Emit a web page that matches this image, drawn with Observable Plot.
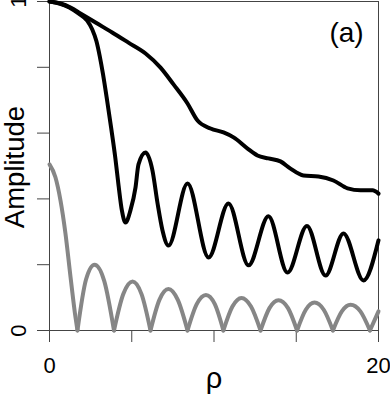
<!DOCTYPE html>
<html>
<head>
<meta charset="utf-8">
<script src="https://cdn.jsdelivr.net/npm/d3@7"></script>
<script src="https://cdn.jsdelivr.net/npm/@observablehq/plot@0.6"></script>
<style>
  html, body { margin: 0; padding: 0; background: #fff; }
  #chart svg { display: block; }
</style>
</head>
<body>
<div id="chart"></div>
<script>
// ---- data ----
const xTicks = [0, 5, 10, 15, 20];
const xTickLabels = ["0", "", "", "", "20"];
const yTicks = [0, 0.2, 0.4, 0.6, 0.8, 1];
const yTickLabels = ["0", "", "", "", "", "1"];
const xLabel = "ρ";
const yLabel = "Amplitude";
const panelLabel = "(a)";

// upper smooth black curve
const upperRho = [0, 0.67, 1.28, 1.88, 2.8, 3.81, 4.8, 5.84, 6.75, 7.54, 8.39, 9.0, 9.79, 10.58, 11.19, 12.04, 12.64, 13.31, 14.04, 14.65, 15.44, 16.35, 17.26, 18.12, 18.91, 19.64, 20];
const upperAmp = [1.0, 0.994, 0.982, 0.964, 0.936, 0.906, 0.875, 0.842, 0.799, 0.748, 0.69, 0.638, 0.614, 0.602, 0.587, 0.553, 0.532, 0.523, 0.514, 0.492, 0.471, 0.468, 0.456, 0.432, 0.426, 0.426, 0.416];

// oscillating black curve
const oscRho = [0, 0.6, 1.2, 1.78, 2.29, 2.6, 2.85, 3.05, 3.25, 3.5, 3.75, 4.0, 4.2, 4.4, 4.62, 4.92, 5.23, 5.41, 5.84, 6.26, 6.57, 6.87, 7.23, 8.39, 9.67, 10.88, 12.10, 13.31, 14.47, 15.65, 16.78, 17.87, 19.09, 20];
const oscAmp = [1.0, 0.994, 0.982, 0.963, 0.942, 0.915, 0.88, 0.835, 0.78, 0.70, 0.615, 0.525, 0.44, 0.365, 0.328, 0.365, 0.435, 0.505, 0.541, 0.486, 0.386, 0.304, 0.258, 0.447, 0.222, 0.386, 0.198, 0.347, 0.176, 0.318, 0.167, 0.295, 0.152, 0.274];

// gray curve, one arch (lobe) per entry
const grayLobe = [0,0,0,0,0,0,0, 1,1,1,1,1, 2,2,2,2,2, 3,3,3,3,3, 4,4,4,4,4, 5,5,5,5,5, 6,6,6,6,6, 7,7,7,7,7, 8,8,8,8,8, 9,9];
const grayRho = [0, 0.36, 0.67, 0.97, 1.28, 1.58, 1.70,
  1.70, 2.22, 2.74, 3.33, 3.92,
  3.92, 4.48, 5.05, 5.60, 6.14,
  6.14, 6.68, 7.23, 7.80, 8.39,
  8.39, 8.95, 9.51, 10.05, 10.57,
  10.57, 11.12, 11.67, 12.25, 12.83,
  12.83, 13.37, 13.92, 14.50, 15.05,
  15.05, 15.58, 16.11, 16.67, 17.23,
  17.23, 17.77, 18.30, 18.90, 19.48,
  19.48, 20];
const grayAmp = [0.505, 0.466, 0.395, 0.295, 0.162, 0.04, 0,
  0, 0.155, 0.20, 0.15, 0,
  0, 0.11, 0.149, 0.11, 0,
  0, 0.093, 0.126, 0.093, 0,
  0, 0.08, 0.108, 0.08, 0,
  0, 0.073, 0.099, 0.073, 0,
  0, 0.068, 0.092, 0.068, 0,
  0, 0.063, 0.085, 0.063, 0,
  0, 0.058, 0.078, 0.058, 0,
  0, 0.058];

const upper = upperRho.map((r, i) => ({rho: r, amp: upperAmp[i]}));
const osc = oscRho.map((r, i) => ({rho: r, amp: oscAmp[i]}));
const gray = grayRho.map((r, i) => ({rho: r, amp: grayAmp[i], lobe: grayLobe[i]}));

const xFmt = new Map(xTicks.map((t, i) => [t, xTickLabels[i]]));
const yFmt = new Map(yTicks.map((t, i) => [t, yTickLabels[i]]));

const font = "'Liberation Sans', Arial, Helvetica, sans-serif";

const chart = Plot.plot({
  width: 390,
  height: 397,
  marginLeft: 49,
  marginRight: 12,
  marginTop: 1,
  marginBottom: 67,
  style: {fontFamily: font, background: "#fff", color: "#000"},
  x: {domain: [0, 20]},
  y: {domain: [0, 1]},
  marks: [
    Plot.frame({stroke: "#444", strokeWidth: 1}),
    Plot.axisX({ticks: xTicks, tickFormat: d => xFmt.get(d), tickSize: 12, tickPadding: 15, fontSize: 22, label: null, stroke: "#444"}),
    Plot.axisY({ticks: yTicks, tickFormat: d => yFmt.get(d), tickSize: 12, tickPadding: 12, tickRotate: -90, fontSize: 22, label: null, stroke: "#444"}),
    Plot.line(gray, {x: "rho", y: "amp", z: "lobe", stroke: "#868686", strokeWidth: 4, curve: "monotone-x", strokeLinecap: "round", strokeLinejoin: "round"}),
    Plot.line(upper, {x: "rho", y: "amp", stroke: "#000", strokeWidth: 4, curve: "monotone-x", strokeLinecap: "round", strokeLinejoin: "round"}),
    Plot.line(osc, {x: "rho", y: "amp", stroke: "#000", strokeWidth: 4, curve: "monotone-x", strokeLinecap: "round", strokeLinejoin: "round"}),
    Plot.text([yLabel], {frameAnchor: "left", rotate: -90, dx: -45, dy: 1, textAnchor: "middle", lineAnchor: "top", fontSize: 27.5, fill: "#000"}),
    Plot.text([xLabel], {frameAnchor: "bottom", dy: 37, textAnchor: "middle", lineAnchor: "top", fontSize: 29, fill: "#000"}),
    Plot.text([panelLabel], {frameAnchor: "top-right", dx: -32, dy: 21, textAnchor: "middle", lineAnchor: "top", fontSize: 28, fill: "#000"})
  ]
});
document.getElementById("chart").appendChild(chart);
</script>
</body>
</html>
